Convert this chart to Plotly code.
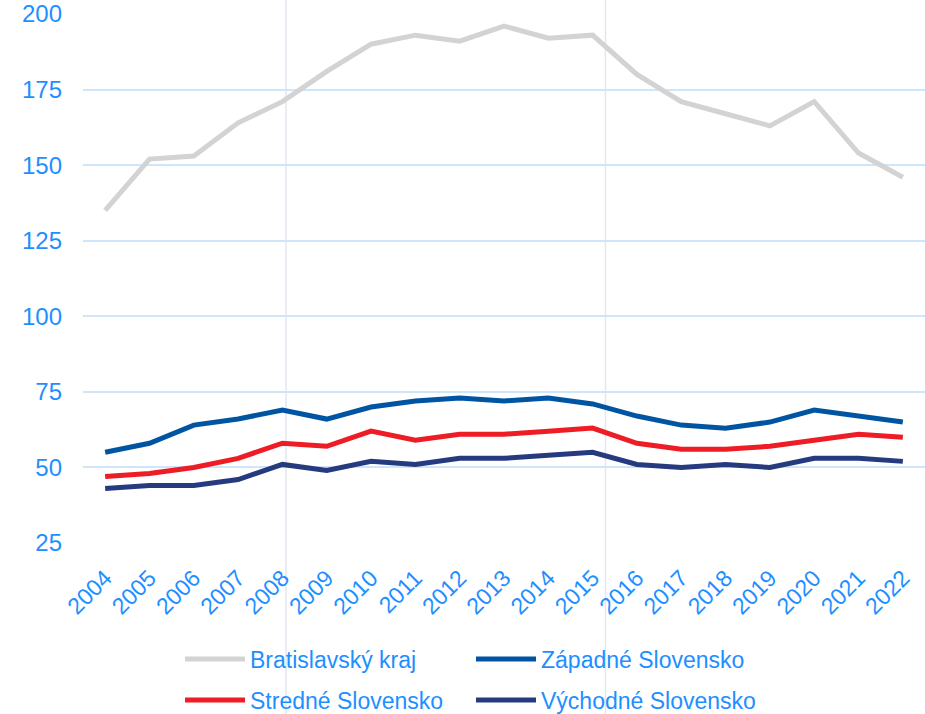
import plotly.graph_objects as go

years = list(range(2004, 2023))
bratislavsky = [135, 152, 153, 164, 171, 181, 190, 193, 191, 196, 192, 193, 180, 171, 167, 163, 171, 154, 146]
zapadne = [55, 58, 64, 66, 69, 66, 70, 72, 73, 72, 73, 71, 67, 64, 63, 65, 69, 67, 65]
stredne = [47, 48, 50, 53, 58, 57, 62, 59, 61, 61, 62, 63, 58, 56, 56, 57, 59, 61, 60]
vychodne = [43, 44, 44, 46, 51, 49, 52, 51, 53, 53, 54, 55, 51, 50, 51, 50, 53, 53, 52]
y_ticks = [25, 50, 75, 100, 125, 150, 175, 200]

FONT = "Arial, Liberation Sans, sans-serif"
TXT = "#1E8FFF"

series = [
    ("Bratislavský kraj", bratislavsky, "#D3D3D3", "legend"),
    ("Západné Slovensko", zapadne, "#0055A2", "legend"),
    ("Stredné Slovensko", stredne, "#EE1C25", "legend2"),
    ("Východné Slovensko", vychodne, "#263A80", "legend2"),
]

fig = go.Figure()
for name, vals, color, lg in series:
    fig.add_trace(go.Scatter(
        x=years, y=vals, name=name, mode="lines",
        line=dict(color=color, width=5),
        legend=lg,
    ))

for xv in [2008.08, 2015.29]:
    fig.add_shape(type="line", xref="x", yref="paper", x0=xv, x1=xv,
                  y0=-0.33, y1=1.03, line=dict(color="#E2E8F0", width=1.5), layer="below")

legend_common = dict(
    orientation="h", font=dict(family=FONT, size=23, color=TXT),
    bgcolor="rgba(0,0,0,0)", entrywidth=216, entrywidthmode="pixels",
    xanchor="left", yanchor="middle", itemwidth=60, tracegroupgap=0,
    xref="container", yref="container",
)

fig.update_layout(
    width=925, height=714,
    margin=dict(l=83, r=0, t=14, b=171),
    paper_bgcolor="white", plot_bgcolor="white",
    font=dict(family=FONT, size=23, color=TXT),
    xaxis=dict(
        range=[2003.5, 2022.5], tickvals=years, ticktext=[str(y) for y in years],
        tickangle=-45, showgrid=False, zeroline=False, showline=False, automargin=False,
        tickfont=dict(family=FONT, size=23, color=TXT), ticklabelstandoff=16,
    ),
    yaxis=dict(
        range=[25, 200], tickvals=y_ticks, showgrid=True, gridcolor="#CFE5FA",
        gridwidth=1.5, zeroline=False, showline=False, automargin=False,
        tickfont=dict(family=FONT, size=24, color=TXT), ticklabelstandoff=20,
    ),
    legend=dict(x=0.1946, y=0.077, **legend_common),
    legend2=dict(x=0.1946, y=0.0196, **legend_common),
    showlegend=True,
)

fig.write_html(
    "out.html",
    config={"displayModeBar": False},
    post_script="document.body.style.margin='0';document.body.style.padding='0';",
)
